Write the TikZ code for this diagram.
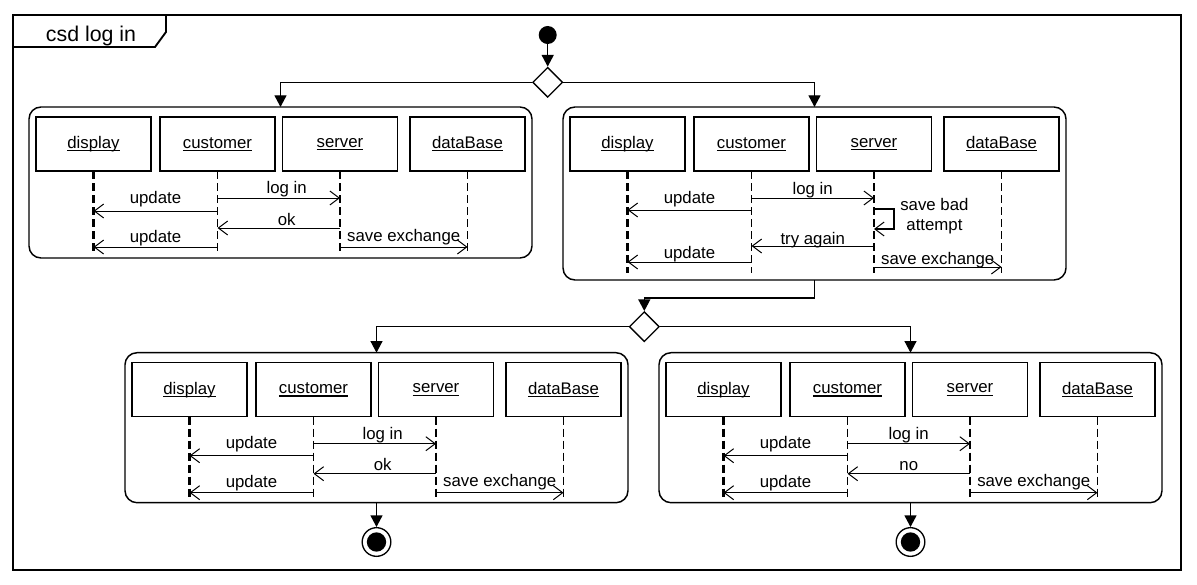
\documentclass[tikz,border=0pt]{standalone}
\usepackage{fontspec}
\setmainfont{Liberation Sans}
\usetikzlibrary{arrows.meta,shapes.geometric}
\newcommand\ulab[1]{\setbox0=\hbox{#1}\hbox{\rlap{\vrule width\wd0 height -1.3pt depth 2.1pt}\box0}}
\tikzset{
  lbl/.style={font=\fontsize{12.6}{15}\selectfont, inner sep=0pt},
  objbox/.style={draw, line width=0.9pt, minimum width=86.25pt, minimum height=40.5pt,
    inner sep=0pt, outer sep=0pt, font=\fontsize{12.6}{15}\selectfont},
  actbox/.style={draw, line width=1.1pt, rounded corners=9pt, minimum width=377.25pt,
    inner sep=0pt, outer sep=0pt},
  life/.style={line width=1.35pt, dash pattern=on 6pt off 3pt},
  msgline/.style={line width=0.75pt, -{Straight Barb[length=7pt,width=10.5pt,line width=0.75pt]}},
  flow/.style={line width=1pt, -{Triangle[length=8.75pt,width=9pt]}},
  decision/.style={diamond, draw, line width=1pt, inner sep=0pt, minimum size=22.5pt, fill=white},
}
% objects and lifelines of one sequence box: #1 name, #2 lifeline length (px)
\newcommand\seqobjs[2]{%
  \node[objbox] (#1-d) at ([shift={(64.5,37)}]#1.north west) {\ulab{display}};
  \node[objbox] (#1-c) at ([shift={(188.5,37)}]#1.north west) {\ulab{customer}};
  \node[objbox] (#1-s) at ([shift={(311,37)}]#1.north west) {\ulab{server}};
  \node[objbox] (#1-b) at ([shift={(438.5,37)}]#1.north west) {\ulab{dataBase}};
  \draw[life, line width=1.8pt] (#1-d.south) -- ++(0,#2);
  \draw[life] (#1-c.south) -- ++(0,#2);
  \draw[life] (#1-s.south) -- ++(0,#2);
  \draw[life] (#1-b.south) -- ++(0,#2);
}
% message: [#1 label options] #2 from, #3 to, #4 offset below lifeline top (px), #5 label, #6 baseline height above line (px)
\newcommand\seqmsg[6][]{%
  \draw[msgline] ([shift={(0,#4)}]#2.south) -- node[lbl, anchor=base, yshift=#6*0.75pt, #1] {#5} ([shift={(0,#4)}]#3.south);
}
\begin{document}
\begin{tikzpicture}[x=0.75pt,y=-0.75pt]
\useasboundingbox (0,0) rectangle (1197,585);
% frame
\draw[line width=2pt] (13,15) rectangle (1181,570);
\draw[line width=1.4pt] (13,47) -- (155,47) -- (166,32) -- (166,15);
\node[font=\fontsize{16}{18}\selectfont, anchor=base, inner sep=0pt] (title) at (91,42) {csd log in};

% control nodes
\node[circle, fill, inner sep=0pt, minimum size=13.5pt] (init) at (547.7,35) {};
\node[decision] (d1) at (547.7,82.3) {};
\node[decision] (d2) at (644.3,326.7) {};
\node[circle, draw, line width=1pt, inner sep=0pt, minimum size=21.5pt] (fl) at (376.5,542) {};
\node[circle, fill, inner sep=0pt, minimum size=14.5pt] (fl-in) at (fl) {};
\node[circle, draw, line width=1pt, inner sep=0pt, minimum size=21.5pt] (fr) at (910.5,542) {};
\node[circle, fill, inner sep=0pt, minimum size=14.5pt] (fr-in) at (fr) {};

% activity boxes
\node[actbox, minimum height=113.25pt] (tl) at (280.5,182.5) {};
\node[actbox, minimum height=129.75pt] (tr) at (814.5,193.5) {};
\node[actbox, minimum height=112.5pt] (bl) at (376.5,427.7) {};
\node[actbox, minimum height=112.5pt] (br) at (910.5,427.7) {};

\seqobjs{tl}{82}
\seqobjs{tr}{102}
\seqobjs{bl}{82}
\seqobjs{br}{82}

% top left
\seqmsg[xshift=6pt]{tl-c}{tl-s}{27}{log in}{4}
\seqmsg{tl-c}{tl-d}{40}{update}{7.5}
\seqmsg[xshift=6pt]{tl-s}{tl-c}{57}{ok}{3}
\seqmsg{tl-c}{tl-d}{76}{update}{5}
\seqmsg{tl-s}{tl-b}{76}{save exchange}{6}

% top right
\seqmsg{tr-c}{tr-s}{27}{log in}{3}
\seqmsg{tr-c}{tr-d}{39}{update}{7}
\draw[line width=1.5pt, -{Straight Barb[length=7pt,width=10.5pt,line width=0.75pt]}]
  ([shift={(0,38)}]tr-s.south) -- ++(20,0) -- node[lbl, right, align=center, yshift=2.5pt, xshift=4pt] {save bad\\attempt} ++(0,20) -- ++(-20,0);
\seqmsg{tr-s}{tr-c}{75}{try again}{2}
\seqmsg{tr-c}{tr-d}{91}{update}{3.5}
\seqmsg{tr-s}{tr-b}{96}{save exchange}{3}

% bottom left
\seqmsg[xshift=6pt]{bl-c}{bl-s}{27}{log in}{4}
\seqmsg{bl-c}{bl-d}{39}{update}{7.5}
\seqmsg[xshift=6pt]{bl-s}{bl-c}{57}{ok}{3}
\seqmsg{bl-c}{bl-d}{76}{update}{5}
\seqmsg{bl-s}{bl-b}{76}{save exchange}{6}

% bottom right
\seqmsg{br-c}{br-s}{27}{log in}{4}
\seqmsg{br-c}{br-d}{39}{update}{7.5}
\seqmsg{br-s}{br-c}{57}{no}{3}
\seqmsg{br-c}{br-d}{76}{update}{5}
\seqmsg{br-s}{br-b}{76}{save exchange}{6}

% control flow
\draw[flow] (init) -- (d1);
\draw[flow] (d1.west) -| (tl.north);
\draw[flow] (d1.east) -| (tr.north);
\draw[flow] (tr.south) -- ++(0,18) -| (d2.north);
\draw[flow] (d2.west) -| (bl.north);
\draw[flow] (d2.east) -| (br.north);
\draw[flow] (bl.south) -- (fl);
\draw[flow] (br.south) -- (fr);
\end{tikzpicture}
\end{document}
